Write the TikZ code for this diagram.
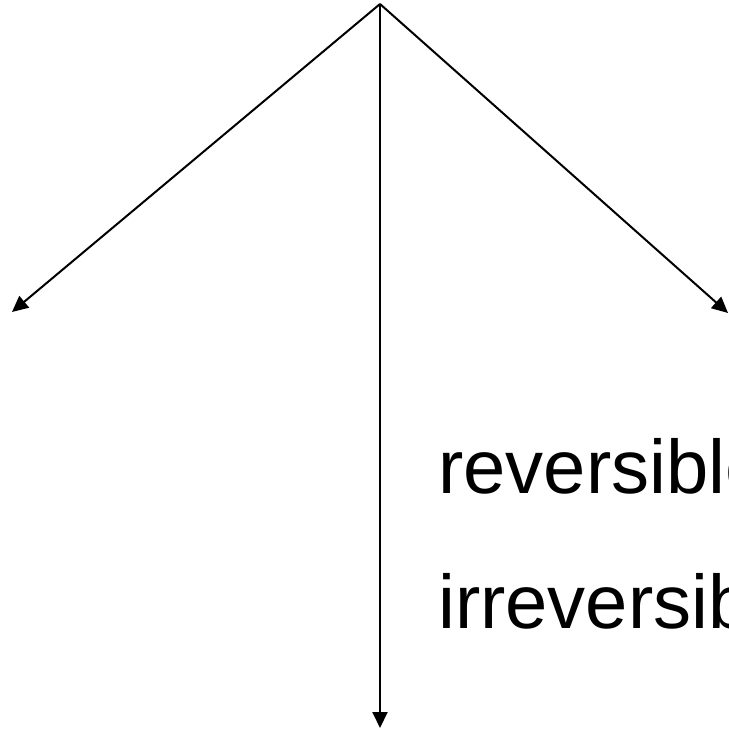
\documentclass[tikz,border=0pt]{standalone}
\usepackage{fontspec}
\setmainfont{Liberation Sans}
\usetikzlibrary{arrows.meta}
\begin{document}
\begin{tikzpicture}[x=1pt,y=-1pt,
  conn/.style={line width=2pt,-{Triangle[length=16pt,width=15pt]}},
  lbl/.style={anchor=base west,inner sep=0pt,font=\fontsize{76}{82}\selectfont}]
\useasboundingbox (0,0) rectangle (728,730);
\clip (0,0) rectangle (728,730);
\coordinate (top) at (380,4);
\coordinate (left) at (12,312);
\coordinate (right) at (728,313);
\coordinate (down) at (380,728);
\draw[conn] (top) -- (left);
\draw[conn] (top) -- (right);
\draw[conn] (top) -- (down);
\node[lbl] (rev) at (438,493) {reversible};
\node[lbl] (irr) at (438,628) {irreversible};
\end{tikzpicture}
\end{document}
